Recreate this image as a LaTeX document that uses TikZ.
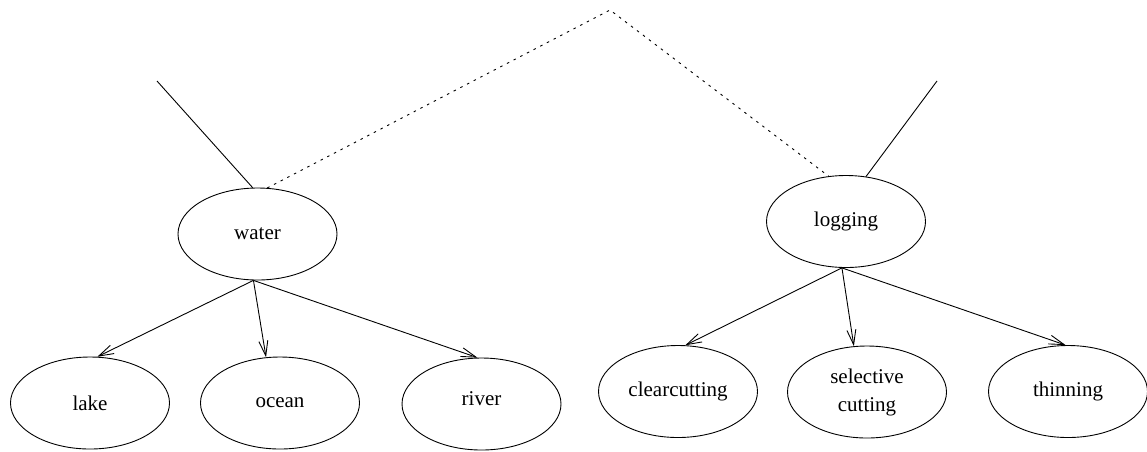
\documentclass[tikz,border=0pt]{standalone}
\usepackage{fontspec}
\setmainfont{Liberation Serif}
\usetikzlibrary{shapes.geometric,arrows.meta}
\begin{document}
\begin{tikzpicture}[x=1pt,y=-1pt,
  concept/.style={ellipse,draw,line width=0.9pt,minimum width=159pt,minimum height=92pt,
    inner sep=0pt,align=center,font=\fontsize{21}{28}\selectfont},
  link/.style={line width=0.9pt},
  hier/.style={line width=0.9pt,-{Straight Barb[length=15pt,width=9pt,line width=0.9pt]}},
  dots/.style={line width=0.9pt,dash pattern=on 2.5pt off 5pt}]
\useasboundingbox (0,0) rectangle (1147,451);

% upper level
\node[concept] (water) at (257.5,234) {water};
\node[concept] (logging) at (846,221.5) {logging};

% lower level
\node[concept] (lake) at (90,403) {lake};
\node[concept] (ocean) at (280,403) {ocean};
\node[concept,label={[font=\fontsize{21}{28}\selectfont]center:\raisebox{11pt}{river}}] (river) at (481.5,404) {};
\node[concept] (clear) at (678,391.5) {clearcutting};
\node[concept] (select) at (867,392) {selective\\cutting};
\node[concept] (thin) at (1068,391.5) {thinning};

% free ends and apex
\coordinate (wup) at (157,81);
\coordinate (lup) at (937,81);
\coordinate (apex) at (610,10);

\draw[link] (wup) -- (water.96.8);
\draw[link] (lup) -- (logging.66.9);
\draw[dots] (water.78.8) -- (apex) -- (logging.111.6);

\draw[hier] (water.265) -- (lake.81.5);
\draw[hier] (water.265) -- (ocean.107.7);
\draw[hier] (water.265) -- (river.95.6);
\draw[hier] (logging.265) -- (clear.81.8);
\draw[hier] (logging.265) -- (select.106.6);
\draw[hier] (logging.265) -- (thin.93.7);
\end{tikzpicture}
\end{document}
